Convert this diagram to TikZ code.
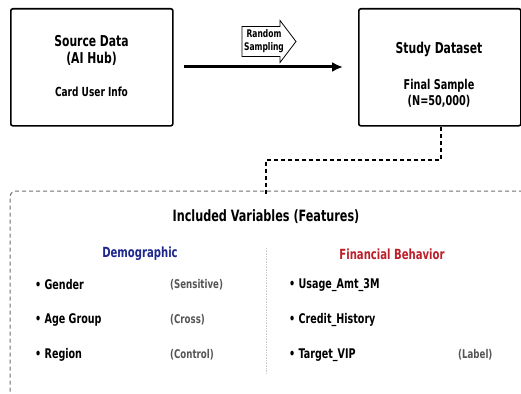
\documentclass[tikz,border=0pt]{standalone}
\usepackage{fontspec}
\setmainfont{DejaVu Sans Condensed}[FakeStretch=0.8,BoldFont={DejaVu Sans Condensed Bold},BoldFeatures={FakeStretch=0.8}]
\usetikzlibrary{arrows.meta}
\definecolor{demoblue}{RGB}{30,40,140}
\definecolor{finred}{RGB}{190,30,40}
\definecolor{notegray}{RGB}{85,85,85}
\definecolor{boxgray}{RGB}{110,110,110}
\begin{document}
\begin{tikzpicture}[x=1pt,y=-1pt,
  mainbox/.style={draw,line width=1.6pt,rounded corners=2pt,minimum width=162pt,minimum height=117pt,anchor=north west},
  bigtxt/.style={font=\bfseries\fontsize{15}{17}\selectfont,align=center},
  smalltxt/.style={font=\bfseries\fontsize{12.5}{16}\selectfont,align=center},
  bullet/.style={font=\bfseries\fontsize{13.3}{15}\selectfont,anchor=west,inner sep=0pt},
  note/.style={font=\bfseries\fontsize{12}{14}\selectfont,text=notegray,anchor=west,inner sep=0pt},
  header/.style={font=\bfseries\fontsize{14}{16}\selectfont}]
\useasboundingbox (0,0) rectangle (521,393);
% main boxes
\node[mainbox] (src) at (10,8) {};
\node[mainbox] (study) at (358,8) {};
\node[bigtxt] (srct) at (91.5,50) {Source Data\\(AI Hub)};
\node[smalltxt] (srcs) at (91.5,92) {Card User Info};
\node[bigtxt] (stt) at (439,49) {Study Dataset};
\node[smalltxt,font=\bfseries\fontsize{13.5}{16}\selectfont] (sts) at (439,93) {Final Sample\\(N=50,000)};
% arrow
\coordinate (a1) at (184,67);
\coordinate (a2) at (343,67);
\draw[line width=3pt,-{Latex[length=11pt,width=10pt]}] (a1) -- (a2);
% random sampling block arrow
\coordinate (rsc) at (264,41.5);
\draw[line width=0.8pt,fill=white] ([xshift=-22pt,yshift=15pt]rsc) -- ([xshift=16pt,yshift=15pt]rsc) -- ([xshift=16pt,yshift=21pt]rsc)
  -- ([xshift=32pt]rsc) -- ([xshift=16pt,yshift=-21pt]rsc) -- ([xshift=16pt,yshift=-15pt]rsc) -- ([xshift=-22pt,yshift=-15pt]rsc) -- cycle;
\node[inner sep=0pt,font=\bfseries\fontsize{10.5}{13}\selectfont,align=center] (rs) at (rsc) {Random\\Sampling};
% big dashed container
\draw[boxgray,line width=1pt,dash pattern=on 4pt off 3pt,rounded corners=6pt] (523,191) -- (10,191) -- (10,400);
\coordinate (c1) at (441,160);
\coordinate (c2) at (266,160);
\coordinate (c3) at (266,196);
\draw[line width=1.3pt,dash pattern=on 4pt off 3pt] (study.south -| c1) -- (c1) -- (c2) -- (c3);
\node[font=\bfseries\fontsize{15.6}{18}\selectfont] (title) at (266,217) {Included Variables (Features)};
\coordinate (d1) at (266,248);
\coordinate (d2) at (266,374);
\draw[gray!40,densely dotted,line width=0.6pt] (d1) -- (d2);
\node[header,text=demoblue] (demo) at (140,254) {Demographic};
\node[header,text=finred] (fin) at (392,254) {Financial Behavior};
\node[bullet] (g) at (35,285) {• Gender};
\node[bullet] (ag) at (35,320) {• Age Group};
\node[bullet] (rg) at (35,355) {• Region};
\node[note] (ns) at (170,285) {(Sensitive)};
\node[note] (nc) at (170,320) {(Cross)};
\node[note] (nco) at (170,355) {(Control)};
\node[bullet] (u) at (289,285) {• Usage\_Amt\_3M};
\node[bullet] (ch) at (289,320) {• Credit\_History};
\node[bullet] (tv) at (289,355) {• Target\_VIP};
\node[note] (nl) at (458,355) {(Label)};
\end{tikzpicture}
\end{document}
